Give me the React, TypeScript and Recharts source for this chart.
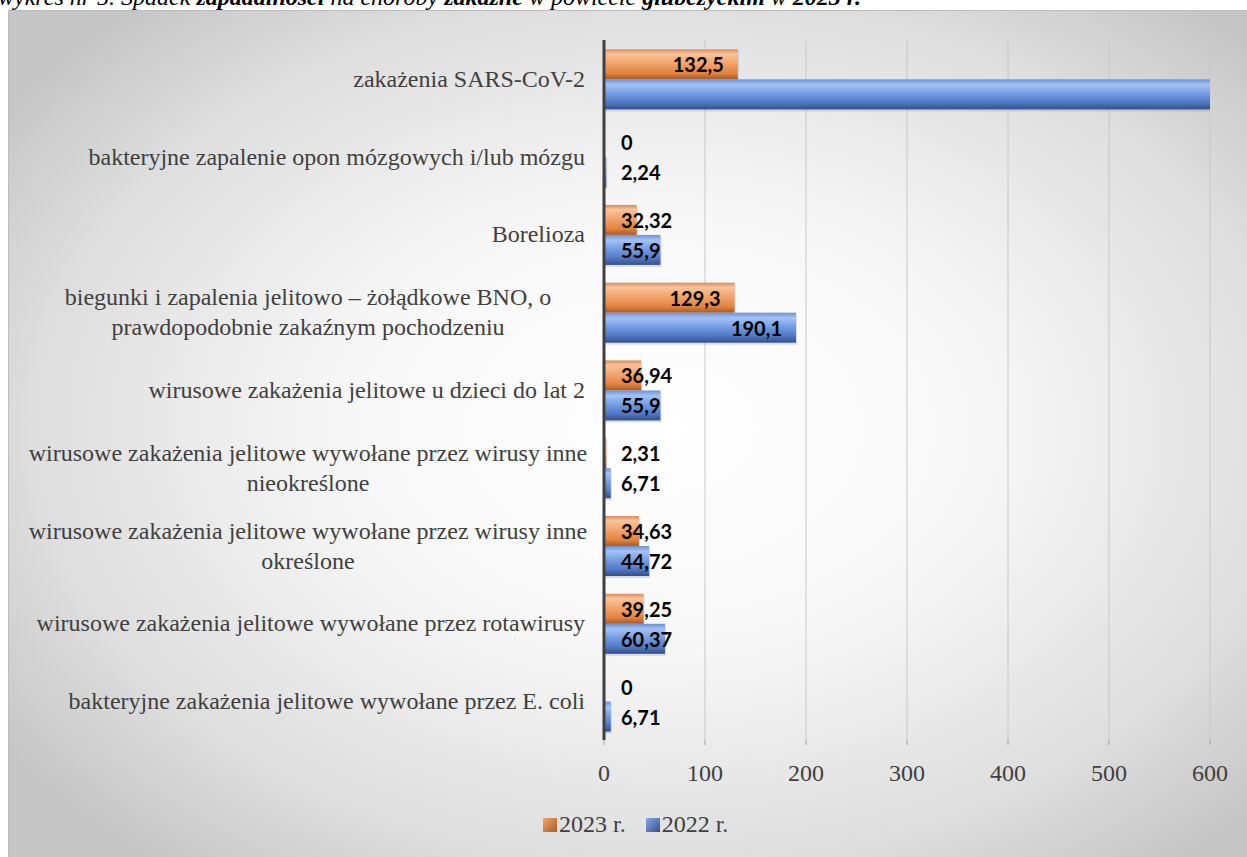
import React from "react";
import { BarChart, Bar, XAxis, YAxis, CartesianGrid, LabelList } from "recharts";

const categories = [
  "zakażenia SARS-CoV-2",
  "bakteryjne zapalenie opon mózgowych i/lub mózgu",
  "Borelioza",
  "biegunki i zapalenia jelitowo – żołądkowe BNO, o|prawdopodobnie zakaźnym pochodzeniu",
  "wirusowe zakażenia jelitowe u dzieci do lat 2",
  "wirusowe zakażenia jelitowe wywołane przez wirusy inne|nieokreślone",
  "wirusowe zakażenia jelitowe wywołane przez wirusy inne|określone",
  "wirusowe zakażenia jelitowe wywołane przez rotawirusy",
  "bakteryjne zakażenia jelitowe wywołane przez E. coli",
];

const values2023 = [132.5, 0, 32.32, 129.3, 36.94, 2.31, 34.63, 39.25, 0];
// SARS-CoV-2 2022 runs off the axis (> 600), exact value not visible
const values2022 = [1100, 2.24, 55.9, 190.1, 55.9, 6.71, 44.72, 60.37, 6.71];

const xTicks = [0, 100, 200, 300, 400, 500, 600];

const data = categories.map((name, i) => ({
  name,
  y2023: values2023[i],
  y2022: values2022[i],
}));

const SERIF = "'Liberation Serif', 'Times New Roman', serif";
const LABEL_FONT = "Lato, 'Open Sans', sans-serif";

function fmt(v: number) {
  return String(v).replace(".", ",");
}

function textWidth(s: string) {
  let w = 0;
  for (const ch of s) w += ch === "," ? 5 : 11.2;
  return w;
}

function ValueLabel(props: any) {
  const { x, y, width, height, value } = props;
  if (value > 600) return null;
  const s = fmt(value);
  const tw = textWidth(s);
  const cy = y + height / 2;
  const endX = x + width - 14;
  const inside = endX - tw >= x + 18;
  return (
    <text
      x={inside ? endX : x + 17}
      y={cy}
      textAnchor={inside ? "end" : "start"}
      dominantBaseline="central"
      fontFamily={LABEL_FONT}
      fontWeight={700}
      fontSize={20}
      fill="#000"
    >
      {s}
    </text>
  );
}

function CategoryTick(props: any) {
  const { y, payload } = props;
  const lines: string[] = String(payload.value).split("|");
  const common = { fontFamily: SERIF, fontSize: 24, fill: "#404040" };
  if (lines.length === 1) {
    return (
      <text x={577} y={y} textAnchor="end" dominantBaseline="central" {...common}>
        {lines[0]}
      </text>
    );
  }
  return (
    <text x={300} y={y} textAnchor="middle" {...common}>
      {lines.map((l, i) => (
        <tspan key={i} x={300} y={y + (i - (lines.length - 1) / 2) * 30} dominantBaseline="central">
          {l}
        </tspan>
      ))}
    </text>
  );
}

function BarShape(props: any) {
  const { x, y, width, height, fill } = props;
  if (!width || width <= 0) return null;
  return (
    <g>
      <rect x={x} y={y + 2} width={width + 1} height={height} fill="rgba(0,0,0,0.12)" />
      <rect x={x} y={y} width={width} height={height} fill={fill} />
    </g>
  );
}

export default function App() {
  return (
    <div style={{ position: "absolute", left: 0, top: 0, width: 1247, height: 857, overflow: "hidden", background: "#fff" }}>
      <div
        style={{
          position: "absolute",
          left: -2,
          top: -16,
          fontFamily: SERIF,
          fontStyle: "italic",
          fontSize: 24,
          whiteSpace: "nowrap",
          color: "#000",
        }}
      >
        wykres nr 5. Spadek <b>zapadalności</b> na choroby <b>zakaźne</b> w powiecie <b>głubczyckim</b> w <b>2023 r.</b>
      </div>
      <div
        style={{
          position: "absolute",
          left: 8,
          top: 10,
          width: 1260,
          height: 870,
          borderTop: "1px solid #bdbdbd",
          borderLeft: "1px solid #bdbdbd",
          background: "radial-gradient(ellipse 64% 64% at 52% 48%, #ffffff 0%, #f7f7f7 40%, #dedede 78%, #c6c6c6 100%)",
        }}
      />
      <div style={{ position: "absolute", left: 8, top: 10 }}>
        <BarChart
          width={1239}
          height={847}
          data={data}
          layout="vertical"
          margin={{ top: 30, right: 37, bottom: 0, left: 0 }}
          barCategoryGap="12%"
          barGap={0}
        >
          <defs>
            <linearGradient id="gOrange" x1="0" y1="0" x2="0" y2="1">
              <stop offset="0%" stopColor="#d98a55" />
              <stop offset="15%" stopColor="#f8c39b" />
              <stop offset="45%" stopColor="#f2a66e" />
              <stop offset="80%" stopColor="#e2823f" />
              <stop offset="100%" stopColor="#a85a24" />
            </linearGradient>
            <linearGradient id="gBlue" x1="0" y1="0" x2="0" y2="1">
              <stop offset="0%" stopColor="#6f92d6" />
              <stop offset="18%" stopColor="#a4c2f4" />
              <stop offset="45%" stopColor="#76a0e6" />
              <stop offset="80%" stopColor="#4e74c0" />
              <stop offset="100%" stopColor="#344f88" />
            </linearGradient>
          </defs>
          <CartesianGrid horizontal={false} stroke="#c8c8c8" />
          <XAxis
            type="number"
            domain={[0, 600]}
            ticks={xTicks}
            allowDataOverflow
            height={117}
            axisLine={false}
            tickLine={{ stroke: "#a0a0a0" }}
            tickSize={5}
            tickMargin={19}
            tick={{ fontFamily: SERIF, fontSize: 24, fill: "#404040" }}
          />
          <YAxis
            type="category"
            dataKey="name"
            width={596}
            axisLine={{ stroke: "#404040", strokeWidth: 3 }}
            tickLine={false}
            tick={<CategoryTick />}
            interval={0}
          />
          <Bar dataKey="y2023" name="2023 r." fill="url(#gOrange)" shape={<BarShape />} isAnimationActive={false}>
            <LabelList dataKey="y2023" content={<ValueLabel />} />
          </Bar>
          <Bar dataKey="y2022" name="2022 r." fill="url(#gBlue)" shape={<BarShape />} isAnimationActive={false}>
            <LabelList dataKey="y2022" content={<ValueLabel />} />
          </Bar>
        </BarChart>
      </div>
      <div
        style={{
          position: "absolute",
          left: 543,
          top: 811,
          display: "flex",
          alignItems: "center",
          fontFamily: SERIF,
          fontSize: 24,
          color: "#404040",
          whiteSpace: "nowrap",
        }}
      >
        <span style={{ width: 14, height: 14, background: "linear-gradient(135deg, #f2a66e, #a85a24)", marginRight: 2 }} />
        <span>2023 r.</span>
        <span style={{ width: 14, height: 14, background: "linear-gradient(135deg, #86aaee, #344f88)", marginLeft: 20, marginRight: 2 }} />
        <span>2022 r.</span>
      </div>
    </div>
  );
}
